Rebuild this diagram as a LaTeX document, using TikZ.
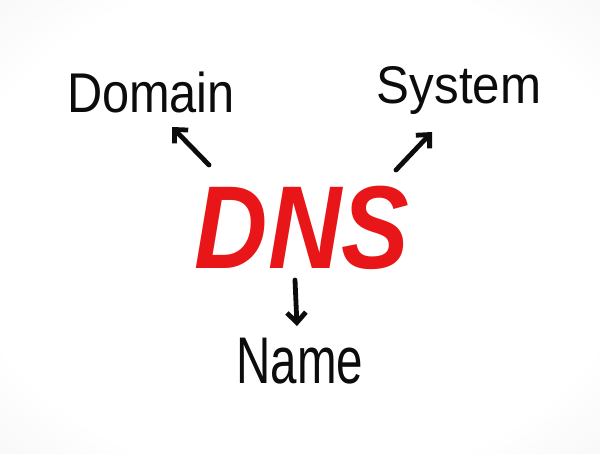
\documentclass[tikz,border=0pt]{standalone}
\usepackage{fontspec}
\setmainfont{Liberation Sans}
\usetikzlibrary{arrows.meta}

\definecolor{markerred}{RGB}{232,22,24}
\definecolor{inkblack}{RGB}{12,12,12}
\pgfdeclareradialshading{paper}{\pgfpoint{0bp}{0bp}}{color(0bp)=(white); color(28bp)=(white); color(50bp)=(black!8)}

\begin{document}
\begin{tikzpicture}[x=1pt, y=-1pt,
    word/.style={inkblack, inner sep=0pt, anchor=base},
    pointer/.style={inkblack, line width=4.8pt, line cap=round, line join=round,
      -{Straight Barb[length=10pt, width=19pt, line width=4.8pt]}}]
  % paper
  \fill[black!8] (0,0) rectangle (600,453);
  \shade[shading=paper] (0,0) rectangle (600,453);
  \useasboundingbox (0,0) rectangle (600,453);

  \node[markerred, inner sep=0pt, anchor=base, xscale=0.86, font=\fontsize{118}{122}\selectfont\bfseries\itshape] (dns) at (302, 268) {DNS};
  \node[word, xscale=0.87, font=\fontsize{56}{60}\selectfont] (domain) at (151, 112) {Domain};
  \node[word, xscale=0.93, font=\fontsize{53}{57}\selectfont] (system) at (459, 103) {System};
  \node[word, xscale=0.72, font=\fontsize{66}{70}\selectfont] (name) at (300, 383) {Name};

  \coordinate (domtail) at (209, 165);
  \coordinate (domhead) at (172, 127);
  \coordinate (systail) at (396, 170);
  \coordinate (syshead) at (432, 132);
  \coordinate (namtail) at (295, 280);
  \coordinate (namhead) at (297, 326);
  \draw[pointer] (domtail) -- (domhead);
  \draw[pointer] (systail) -- (syshead);
  \draw[pointer] (namtail) -- (namhead);
\end{tikzpicture}
\end{document}
